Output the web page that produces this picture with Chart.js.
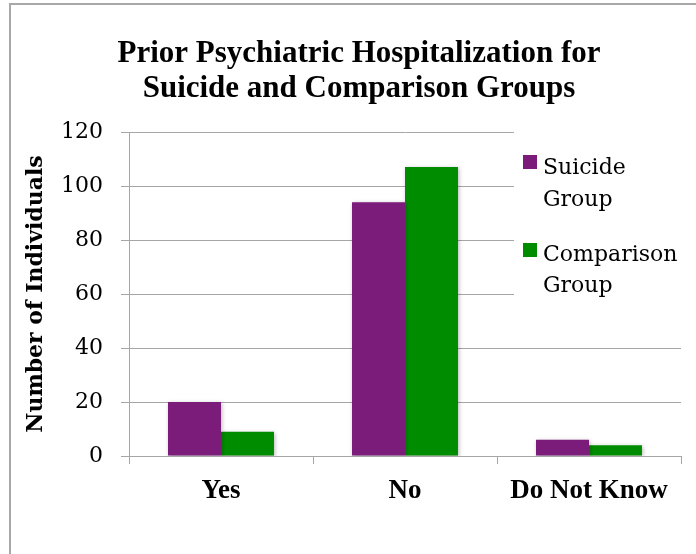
<!DOCTYPE html>
<html>
<head>
<meta charset="utf-8">
<title>Prior Psychiatric Hospitalization</title>
<script src="https://cdn.jsdelivr.net/npm/chart.js@4.4.1/dist/chart.umd.min.js"></script>
<style>
  html, body { margin: 0; padding: 0; background: #fff; }
  .frame {
    position: absolute; left: 9px; top: 3px; width: 700px; height: 560px;
    border-top: 2px solid #a8a8a8; border-left: 2px solid #a8a8a8;
  }
  .chart { position: absolute; left: 0; top: 0; width: 696px; height: 554px; }
</style>
</head>
<body>
<div class="frame"></div>
<div class="chart">
  <canvas id="hospChart" width="696" height="554"></canvas>
</div>
<script>
const categories = ['Yes', 'No', 'Do Not Know'];
const suicideGroup = [20, 94, 6];
const comparisonGroup = [9, 107, 4];
const seriesNames = [['Suicide', 'Group'], ['Comparison', 'Group']];
const titleLines = ['Prior Psychiatric Hospitalization for', 'Suicide and Comparison Groups'];
const yTicks = [0, 20, 40, 60, 80, 100, 120];

const serif = "'DejaVu Serif', 'Liberation Serif', serif";
const boldSerif = "'Liberation Serif', 'Times New Roman', serif";
const gridGray = '#a6a6a6';

// two-line bold heading
const heading = {
  id: 'heading',
  afterDraw(chart) {
    const ctx = chart.ctx;
    ctx.save();
    ctx.font = 'bold 31px ' + boldSerif;
    ctx.fillStyle = '#000';
    ctx.textAlign = 'center';
    ctx.textBaseline = 'alphabetic';
    titleLines.forEach((line, i) => ctx.fillText(line, 359, 62 + i * 35));
    ctx.restore();
  }
};

// soft drop shadow under the bars
const barShadow = {
  id: 'barShadow',
  beforeDatasetsDraw(chart) {
    const ctx = chart.ctx;
    ctx.save();
    ctx.shadowColor = 'rgba(0,0,0,0.28)';
    ctx.shadowBlur = 4;
    ctx.shadowOffsetX = 1;
    ctx.shadowOffsetY = 1;
  },
  afterDatasetsDraw(chart) {
    chart.ctx.restore();
  }
};

// legend box sits over the upper right of the plot, two-line labels
const sideLegend = {
  id: 'sideLegend',
  beforeDatasetsDraw(chart) {
    const ctx = chart.ctx;
    ctx.save();
    ctx.fillStyle = '#fff';
    ctx.fillRect(514, 126, 182, 184);
    ctx.restore();
  },
  afterDraw(chart) {
    const ctx = chart.ctx;
    const x = 523;
    const boxTops = [155, 243];
    const baselines = [[174, 206], [261, 292]];
    ctx.save();
    ctx.font = '22px ' + serif;
    ctx.textBaseline = 'alphabetic';
    chart.data.datasets.forEach((ds, i) => {
      ctx.fillStyle = ds.backgroundColor;
      ctx.fillRect(x, boxTops[i], 14, 14);
      ctx.fillStyle = '#000';
      seriesNames[i].forEach((line, j) => ctx.fillText(line, x + 20, baselines[i][j]));
    });
    ctx.restore();
  }
};

new Chart(document.getElementById('hospChart'), {
  type: 'bar',
  data: {
    labels: categories,
    datasets: [
      {
        label: 'Suicide Group',
        data: suicideGroup,
        backgroundColor: '#7b1b7a',
        barPercentage: 1,
        categoryPercentage: 0.576
      },
      {
        label: 'Comparison Group',
        data: comparisonGroup,
        backgroundColor: '#008c00',
        barPercentage: 1,
        categoryPercentage: 0.576
      }
    ]
  },
  options: {
    responsive: false,
    animation: false,
    layout: { padding: { left: 23, right: 15, top: 132, bottom: 0 } },
    plugins: {
      legend: { display: false },
      tooltip: { enabled: false },
      title: { display: false }
    },
    scales: {
      x: {
        afterFit(scale) { scale.height = 98; },
        grid: { display: true, drawOnChartArea: false, color: gridGray, tickLength: 8, offset: true },
        border: { color: gridGray, width: 1 },
        ticks: { color: '#000', padding: 11, font: { family: boldSerif, size: 27, weight: 'bold' } }
      },
      y: {
        min: 0,
        max: 120,
        afterBuildTicks(scale) { scale.ticks = yTicks.map(v => ({ value: v })); },
        afterFit(scale) { scale.width = 106; },
        grid: { color: gridGray, tickLength: 8 },
        border: { color: gridGray, width: 1 },
        ticks: { color: '#000', padding: 18, font: { family: serif, size: 22 } },
        title: {
          display: true,
          text: 'Number of Individuals',
          color: '#000',
          padding: 0,
          font: { family: serif, size: 22, weight: 'bold' }
        }
      }
    }
  },
  plugins: [heading, sideLegend, barShadow]
});
</script>
</body>
</html>
